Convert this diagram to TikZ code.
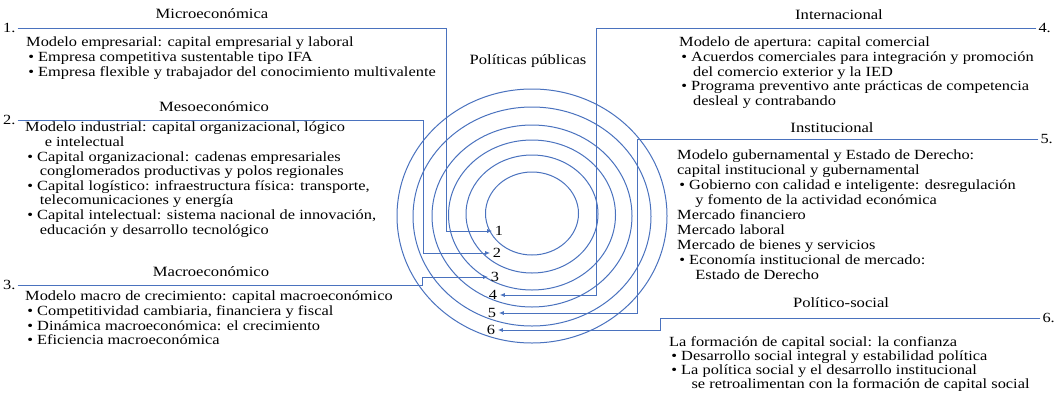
\documentclass[tikz,border=0pt]{standalone}
\usepackage{fontspec}
\setmainfont[FakeStretch=1.17]{Liberation Serif}
\usetikzlibrary{arrows.meta,calc}
\definecolor{ringColor}{HTML}{4A72BE}
\newcommand{\bul}{\hspace*{.15em}\textbullet\hspace{.3em}}

\begin{document}
\begin{tikzpicture}[
      x=1pt,y=-1pt,
      ring/.style={draw=ringColor,line width=1pt},
      conn/.style={draw=ringColor,line width=1pt,-{Latex[length=5pt,width=4pt]}},
      head/.style={font=\fontsize{14.2}{14.6}\selectfont,inner sep=0pt},
      body/.style={font=\fontsize{14}{14.6}\selectfont,align=left,anchor=north west,inner sep=0pt},
      numl/.style={font=\fontsize{14}{14.6}\selectfont,inner sep=2pt},
      ringnum/.style={font=\fontsize{14}{14.6}\selectfont,inner sep=2.5pt},
      >=Latex
    ]
    \useasboundingbox (0,0) rectangle (1057,394);
    \foreach \rx/\ry/\cy in {46.5/41.5/213.5,66/59/214,83.5/75/215,100/91/216,119/109.5/216.5,135/127/216}{
      \draw[ring] (532,\cy) ellipse [x radius=\rx, y radius=\ry];
    }
    \node[ringnum] (n1) at (499,231) {1};
    \node[ringnum] (n2) at (497,253) {2};
    \node[ringnum] (n3) at (495,277) {3};
    \node[ringnum] (n4) at (493,295) {4};
    \node[ringnum] (n5) at (492,313) {5};
    \node[ringnum] (n6) at (491,330) {6};
    \node[head] (pp) at (528,61) {Políticas públicas};

    \node[numl,anchor=west] (k1) at (1,28) {1.};
    \node[numl,anchor=west] (k2) at (1,120) {2.};
    \node[numl,anchor=west] (k3) at (1,285) {3.};
    \node[numl,anchor=east] (k4) at (1053,28) {4.};
    \node[numl,anchor=east] (k5) at (1055,139) {5.};
    \node[numl,anchor=east] (k6) at (1057,318) {6.};
    \coordinate (b1) at (446,0);
    \coordinate (b2) at (423,0);
    \coordinate (b3) at (422,0);
    \coordinate (b4) at (596,0);
    \coordinate (b5) at (637,0);
    \coordinate (b6) at (660,0);
    \foreach \k/\b/\n in {k1/b1/n1,k2/b2/n2,k3/b3/n3}{
      \draw[conn] (\k.east) -- (\k.east -| \b) |- (\n.west);
    }
    \foreach \k/\b/\n in {k4/b4/n4,k5/b5/n5,k6/b6/n6}{
      \draw[conn] (\k.west) -- (\k.west -| \b) |- (\n.east);
    }

    \node[head] (t1) at (212,14) {Microeconómica};
    \node[body] (d1) at (26,37) {Modelo empresarial: capital empresarial y laboral\\
      \bul Empresa competitiva sustentable tipo IFA\\
      \bul Empresa flexible y trabajador del conocimiento multivalente};
    \node[head] (t2) at (214,107) {Mesoeconómico};
    \node[body] (d2) at (25,122) {Modelo industrial: capital organizacional, lógico\\
      \hspace*{1.4em}e intelectual\\
      \bul Capital organizacional: cadenas empresariales\\
      \hspace*{1.05em}conglomerados productivas y polos regionales\\
      \bul Capital logístico: infraestructura física: transporte,\\
      \hspace*{1.05em}telecomunicaciones y energía\\
      \bul Capital intelectual: sistema nacional de innovación,\\
      \hspace*{1.05em}educación y desarrollo tecnológico};
    \node[head] (t3) at (211,272) {Macroeconómico};
    \node[body] (d3) at (25,291) {Modelo macro de crecimiento: capital macroeconómico\\
      \bul Competitividad cambiaria, financiera y fiscal\\
      \bul Dinámica macroeconómica: el crecimiento\\
      \bul Eficiencia macroeconómica};

    \node[head] (t4) at (839,15) {Internacional};
    \node[body] (d4) at (679,37) {Modelo de apertura: capital comercial\\
      \bul Acuerdos comerciales para integración y promoción\\
      \hspace*{1em}del comercio exterior y la IED\\
      \bul Programa preventivo ante prácticas de competencia\\
      \hspace*{1em}desleal y contrabando};
    \node[head] (t5) at (832,128) {Institucional};
    \node[body,font=\fontsize{14}{15}\selectfont] (d5) at (677,150) {Modelo gubernamental y Estado de Derecho:\\
      capital institucional y gubernamental\\
      \bul Gobierno con calidad e inteligente: desregulación\\
      \hspace*{1.3em}y fomento de la actividad económica\\
      Mercado financiero\\
      Mercado laboral\\
      Mercado de bienes y servicios\\
      \bul Economía institucional de mercado:\\
      \hspace*{1.3em}Estado de Derecho};
    \node[head] (t6) at (841,303) {Político-social};
    \node[body,font=\fontsize{14}{14.2}\selectfont] (d6) at (669,336) {La formación de capital social: la confianza\\
      \bul Desarrollo social integral y estabilidad política\\
      \bul La política social y el desarrollo institucional\\
      \hspace*{1.6em}se retroalimentan con la formación de capital social};
  \end{tikzpicture}
\end{document}
